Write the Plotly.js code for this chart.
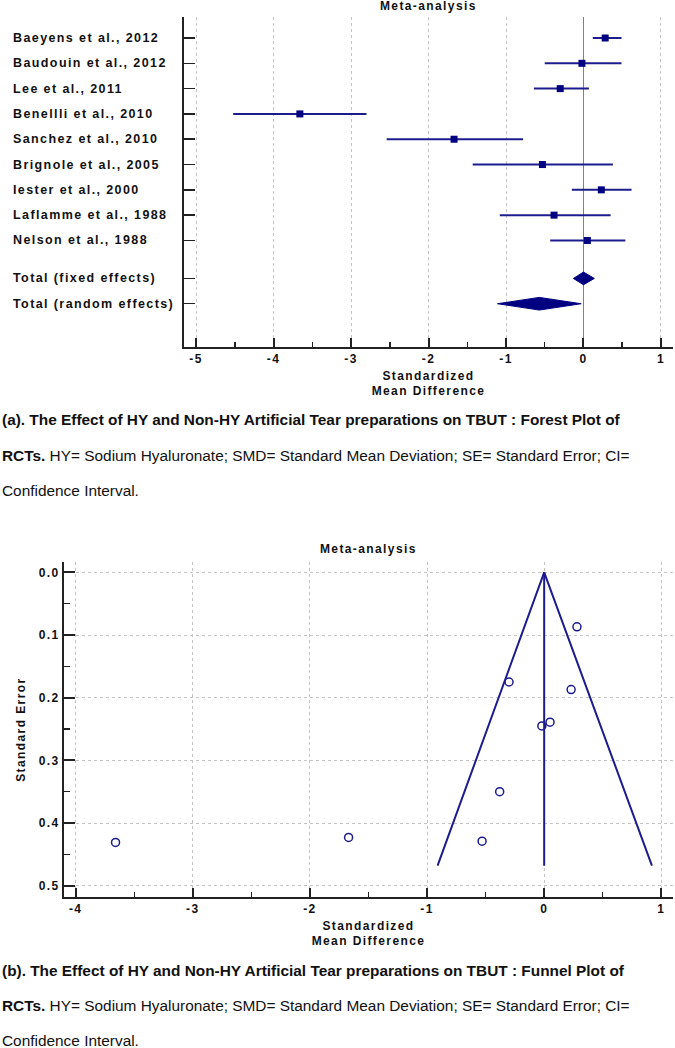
<!DOCTYPE html>
<html>
<head>
<meta charset="utf-8">
<script src="https://cdn.plot.ly/plotly-3.0.1.min.js"></script>
<style>
  html, body { margin: 0; padding: 0; background: #fff; }
  #chart { width: 675px; height: 1048px; }
</style>
</head>
<body>
<div id="chart"></div>
<script>
// ---------- data ----------
const studies = ["Baeyens et al., 2012", "Baudouin et al., 2012", "Lee et al., 2011",
  "Benellli et al., 2010", "Sanchez et al., 2010", "Brignole et al., 2005",
  "Iester et al., 2000", "Laflamme et al., 1988", "Nelson et al., 1988"];
const smd    = [0.28, -0.02, -0.30, -3.66, -1.67, -0.53, 0.23, -0.38, 0.05];
const ciLow  = [0.12, -0.50, -0.64, -4.52, -2.54, -1.43, -0.15, -1.08, -0.43];
const ciHigh = [0.49, 0.49, 0.07, -2.80, -0.78, 0.38, 0.62, 0.35, 0.54];
const se     = [0.087, 0.245, 0.175, 0.431, 0.423, 0.429, 0.187, 0.350, 0.239];

const pooledLabels = ["Total (fixed effects)", "Total (random effects)"];
const pooledEst  = [0.00, -0.57];
const pooledLow  = [-0.13, -1.11];
const pooledHigh = [0.14, -0.03];

const funnelBottomSE = 0.468;
const funnelLimits = [-0.91, 0.92];

const forestTicks = [-5, -4, -3, -2, -1, 0, 1];
const funnelXTicks = [-4, -3, -2, -1, 0, 1];
const funnelYTicks = [0.0, 0.1, 0.2, 0.3, 0.4, 0.5];

const chartTitle = "Meta-analysis";
const xTitle = "Standardized<br>Mean Difference";
const yTitleFunnel = "Standard Error";
const captionA = ["<b>(a). The Effect of HY and Non-HY Artificial Tear preparations on TBUT : Forest Plot of</b>",
  "<b>RCTs.</b> HY= Sodium Hyaluronate; SMD= Standard Mean Deviation; SE= Standard Error; CI=",
  "Confidence Interval."];
const captionB = ["<b>(b). The Effect of HY and Non-HY Artificial Tear preparations on TBUT : Funnel Plot of</b>",
  "<b>RCTs.</b> HY= Sodium Hyaluronate; SMD= Standard Mean Deviation; SE= Standard Error; CI=",
  "Confidence Interval."];

// ---------- styling ----------
const W = 675, H = 1048;
const FONT = "Liberation Sans, Arial, sans-serif";
const NAVY = "#000080";
const LINE = "#1c1c8e";
const AXIS = "#222222";
const GRID = "#c4c4c4";
const px = v => v / W;
const py = v => 1 - v / H;

// row positions
const studyRows = studies.map((s, i) => i);
const pooledRows = pooledLabels.map((s, j) => studies.length + 0.5 + j);
const diamondHalf = 0.25;

const traces = [];

// CI lines
const ciX = [], ciY = [];
studies.forEach((s, i) => { ciX.push(ciLow[i], ciHigh[i], null); ciY.push(studyRows[i], studyRows[i], null); });
traces.push({ x: ciX, y: ciY, xaxis: 'x', yaxis: 'y', mode: 'lines', type: 'scatter',
  line: { color: LINE, width: 2 }, hoverinfo: 'skip' });
// point estimates
traces.push({ x: smd, y: studyRows, xaxis: 'x', yaxis: 'y', mode: 'markers', type: 'scatter',
  marker: { symbol: 'square', size: 7, color: NAVY }, text: studies });
// pooled diamonds
pooledLabels.forEach((lab, j) => {
  const r = pooledRows[j];
  traces.push({ x: [pooledLow[j], pooledEst[j], pooledHigh[j], pooledEst[j], pooledLow[j]],
    y: [r, r - diamondHalf, r, r + diamondHalf, r], xaxis: 'x', yaxis: 'y',
    mode: 'lines', type: 'scatter', fill: 'toself', fillcolor: NAVY,
    line: { color: NAVY, width: 1 }, name: lab });
});

// funnel lines
traces.push({ x: [funnelLimits[0], pooledEst[0], funnelLimits[1]], y: [funnelBottomSE, 0, funnelBottomSE],
  xaxis: 'x2', yaxis: 'y2', mode: 'lines', type: 'scatter', line: { color: LINE, width: 2 } });
traces.push({ x: [pooledEst[0], pooledEst[0]], y: [0, funnelBottomSE],
  xaxis: 'x2', yaxis: 'y2', mode: 'lines', type: 'scatter', line: { color: LINE, width: 2 } });
// funnel points
traces.push({ x: smd, y: se, xaxis: 'x2', yaxis: 'y2', mode: 'markers', type: 'scatter',
  marker: { symbol: 'circle-open', size: 8, color: LINE, line: { width: 1.5, color: LINE } }, text: studies });

const tickFont = { family: FONT, size: 12, color: '#111' };
const titleFont = { family: FONT, size: 12, color: '#111' };

const commonX = {
  showline: true, linecolor: AXIS, linewidth: 2, mirror: false,
  ticks: 'inside', ticklen: 9, tickwidth: 2, tickcolor: AXIS,
  showgrid: true, gridcolor: GRID, griddash: 'dot', gridwidth: 1,
  tickfont: tickFont, fixedrange: true, tickmode: 'array',
  minor: { tickmode: 'linear', tick0: 0, dtick: 0.5, ticks: 'inside', ticklen: 5, tickwidth: 1.5, tickcolor: AXIS, showgrid: false }
};

const layout = {
  width: W, height: H, margin: { l: 0, r: 0, t: 0, b: 0 },
  paper_bgcolor: '#fff', plot_bgcolor: '#fff', showlegend: false,
  font: { family: FONT, color: '#111' },
  xaxis: Object.assign({}, commonX, {
    domain: [px(184), px(673)], anchor: 'y', range: [-5.155, 1.155],
    tickvals: forestTicks, ticktext: forestTicks.map(v => '<b>' + v + '</b>'),
    zeroline: true, zerolinecolor: '#7a7ab4', zerolinewidth: 1,
    title: { text: '<b>' + xTitle + '</b>', font: titleFont, standoff: 6 }
  }),
  yaxis: {
    domain: [py(347), py(17)], anchor: 'x', range: [12.21, -0.83],
    showline: true, linecolor: AXIS, linewidth: 2, zeroline: false, showgrid: false,
    tickmode: 'array', tickvals: studyRows.concat(pooledRows), showticklabels: false,
    ticks: 'inside', ticklen: 11, tickwidth: 1.5, tickcolor: AXIS, fixedrange: true
  },
  xaxis2: Object.assign({}, commonX, {
    domain: [px(64), px(673)], anchor: 'y2', range: [-4.10, 1.10],
    tickvals: funnelXTicks, ticktext: funnelXTicks.map(v => '<b>' + v + '</b>'),
    zeroline: false,
    title: { text: '<b>' + xTitle + '</b>', font: titleFont, standoff: 6 }
  }),
  yaxis2: {
    domain: [py(897), py(562.3)], anchor: 'x2', range: [0.518, -0.016],
    showline: true, linecolor: AXIS, linewidth: 2, zeroline: false,
    showgrid: true, gridcolor: GRID, griddash: 'dot', gridwidth: 1,
    tickmode: 'array', tickvals: funnelYTicks, ticktext: funnelYTicks.map(v => '<b>' + v.toFixed(1) + '</b>'),
    tickfont: tickFont, ticks: 'inside', ticklen: 11, tickwidth: 2, tickcolor: AXIS,
    minor: { tickmode: 'linear', tick0: 0, dtick: 0.05, ticks: 'inside', ticklen: 6, tickwidth: 1.5, tickcolor: AXIS, showgrid: false },
    title: { text: '<b>' + yTitleFunnel + '</b>', font: titleFont, standoff: 15 }, fixedrange: true
  },
  annotations: []
};

// study / pooled labels on the forest plot (left aligned)
studies.concat(pooledLabels).forEach((lab, k) => {
  layout.annotations.push({ text: '<b>' + lab + '</b>', xref: 'paper', yref: 'y',
    x: px(11), y: studyRows.concat(pooledRows)[k], xanchor: 'left', yanchor: 'middle', align: 'left',
    showarrow: false, font: { family: FONT, size: 12.5, color: '#111' } });
});
// chart titles
layout.annotations.push({ text: '<b>' + chartTitle + '</b>', xref: 'paper', yref: 'paper',
  x: px(428.5), y: py(6), xanchor: 'center', yanchor: 'middle', showarrow: false,
  font: { family: FONT, size: 12, color: '#111' } });
layout.annotations.push({ text: '<b>' + chartTitle + '</b>', xref: 'paper', yref: 'paper',
  x: px(368.5), y: py(549), xanchor: 'center', yanchor: 'middle', showarrow: false,
  font: { family: FONT, size: 12, color: '#111' } });
const nSpaced = layout.annotations.length;
// captions
const capA_y = [420, 455, 490], capB_y = [970.5, 1005, 1040];
const capFont = { family: FONT, size: 15.4, color: '#111' };
captionA.forEach((t, i) => layout.annotations.push({ text: t, xref: 'paper', yref: 'paper',
  x: px(0), y: py(capA_y[i]), xanchor: 'left', yanchor: 'middle', align: 'left', showarrow: false, font: capFont }));
captionB.forEach((t, i) => layout.annotations.push({ text: t, xref: 'paper', yref: 'paper',
  x: px(0), y: py(capB_y[i]), xanchor: 'left', yanchor: 'middle', align: 'left', showarrow: false, font: capFont }));

Plotly.newPlot('chart', traces, layout, { staticPlot: true, displayModeBar: false }).then(gd => {
  const sp = '1.4px';
  gd.querySelectorAll('.annotation').forEach(g => {
    const idx = +g.getAttribute('data-index');
    if (idx < nSpaced) g.querySelectorAll('text').forEach(t => t.style.letterSpacing = sp);
  });
  gd.querySelectorAll('.xtick text, .x2tick text, .y2tick text, .xtitle, .x2title, .y2title').forEach(t => t.style.letterSpacing = sp);
});
</script>
</body>
</html>
